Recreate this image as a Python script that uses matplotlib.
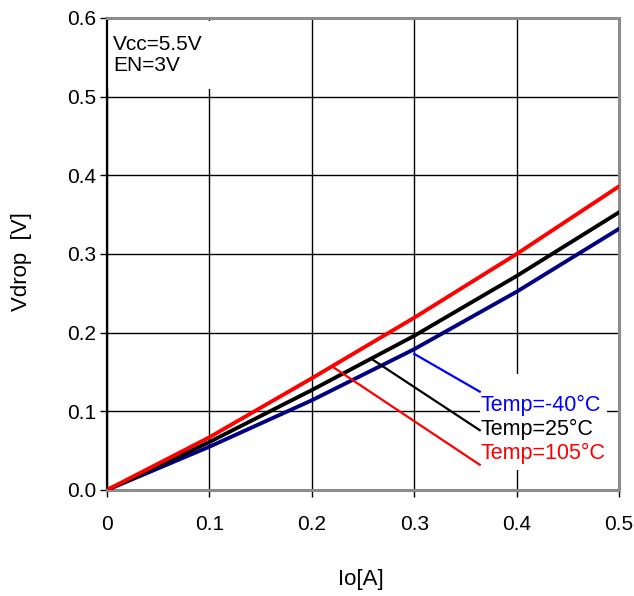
#!/usr/bin/env python3
"""Vdrop vs. output current for three temperatures."""

import matplotlib

matplotlib.use("Agg")
import matplotlib.pyplot as plt
from matplotlib.patches import Rectangle

plt.rcParams["font.family"] = ["Liberation Sans", "DejaVu Sans"]

IO = [0.0, 0.1, 0.2, 0.3, 0.4, 0.5]
VDROP_M40 = [0.0, 0.055, 0.114, 0.179, 0.252, 0.332]
VDROP_25 = [0.0, 0.061, 0.127, 0.196, 0.272, 0.353]
VDROP_105 = [0.0, 0.067, 0.142, 0.219, 0.300, 0.386]

LABELS = ["Temp=-40°C", "Temp=25°C", "Temp=105°C"]
X_TICKS = [0, 0.1, 0.2, 0.3, 0.4, 0.5]
X_TICK_LABELS = ["0", "0.1", "0.2", "0.3", "0.4", "0.5"]
Y_TICKS = [0.0, 0.1, 0.2, 0.3, 0.4, 0.5, 0.6]
Y_TICK_LABELS = ["0.0", "0.1", "0.2", "0.3", "0.4", "0.5", "0.6"]

# leader line start (on curve) and end near the label, data coordinates
LEADER_START = [(0.300, 0.173), (0.259, 0.166), (0.221, 0.156)]
LEADER_END = [(0.364, 0.125), (0.364, 0.076), (0.364, 0.032)]
LABEL_Y = [0.108, 0.077, 0.046]

fig = plt.figure(figsize=(6.34, 5.96), dpi=100)
ax = fig.add_axes([0.1688, 0.1779, 0.8076, 0.7919])

ax.plot(IO, VDROP_M40, color="#000080", lw=2.8, zorder=3)
ax.plot(IO, VDROP_25, color="black", lw=2.8, zorder=3)
ax.plot(IO, VDROP_105, color="#ff0000", lw=2.8, zorder=3)

ax.set_xlim(0, 0.5)
ax.set_ylim(0, 0.6)
ax.set_xticks(X_TICKS)
ax.set_xticklabels(X_TICK_LABELS, fontsize=15)
ax.set_yticks(Y_TICKS)
ax.set_yticklabels(Y_TICK_LABELS, fontsize=15)
ax.tick_params(axis="x", direction="out", length=5, width=1, pad=13)
ax.tick_params(axis="y", direction="out", length=5, width=1, pad=3)
ax.grid(True, color="black", lw=1.0)
ax.set_axisbelow(True)

for side in ("top", "right", "bottom"):
    ax.spines[side].set_color("#8c8c8c")
    ax.spines[side].set_linewidth(2.2)
ax.spines["left"].set_color("black")
ax.spines["left"].set_linewidth(1.6)

ax.set_xlabel("Io[A]", fontsize=16, va="center")
ax.xaxis.set_label_coords(0.495, -0.189)
ax.set_ylabel("Vdrop  [V]", fontsize=16, va="center")
ax.yaxis.set_label_coords(-0.168, 0.483)

# condition box (white background hides the grid behind it)
ax.text(0.006, 0.578, "Vcc=5.5V\nEN=3V", fontsize=15, ha="left", va="top",
        linespacing=1.08, zorder=2,
        bbox=dict(boxstyle="square,pad=0.7", facecolor="white", edgecolor="none"))

# label block background
ax.add_patch(Rectangle((0.364, 0.026), 0.124, 0.122, facecolor="white",
                       edgecolor="none", zorder=1.5))

label_colors = ["#0000ff", "black", "#ff0000"]
for start, end, y, label, color in zip(LEADER_START, LEADER_END, LABEL_Y, LABELS, label_colors):
    ax.plot([start[0], end[0]], [start[1], end[1]], color=color, lw=1.6, zorder=4)
    ax.text(0.365, y, label, color=color, fontsize=15.5, ha="left", va="center", zorder=5)

fig.savefig("out.png", dpi=100)
plt.close(fig)
